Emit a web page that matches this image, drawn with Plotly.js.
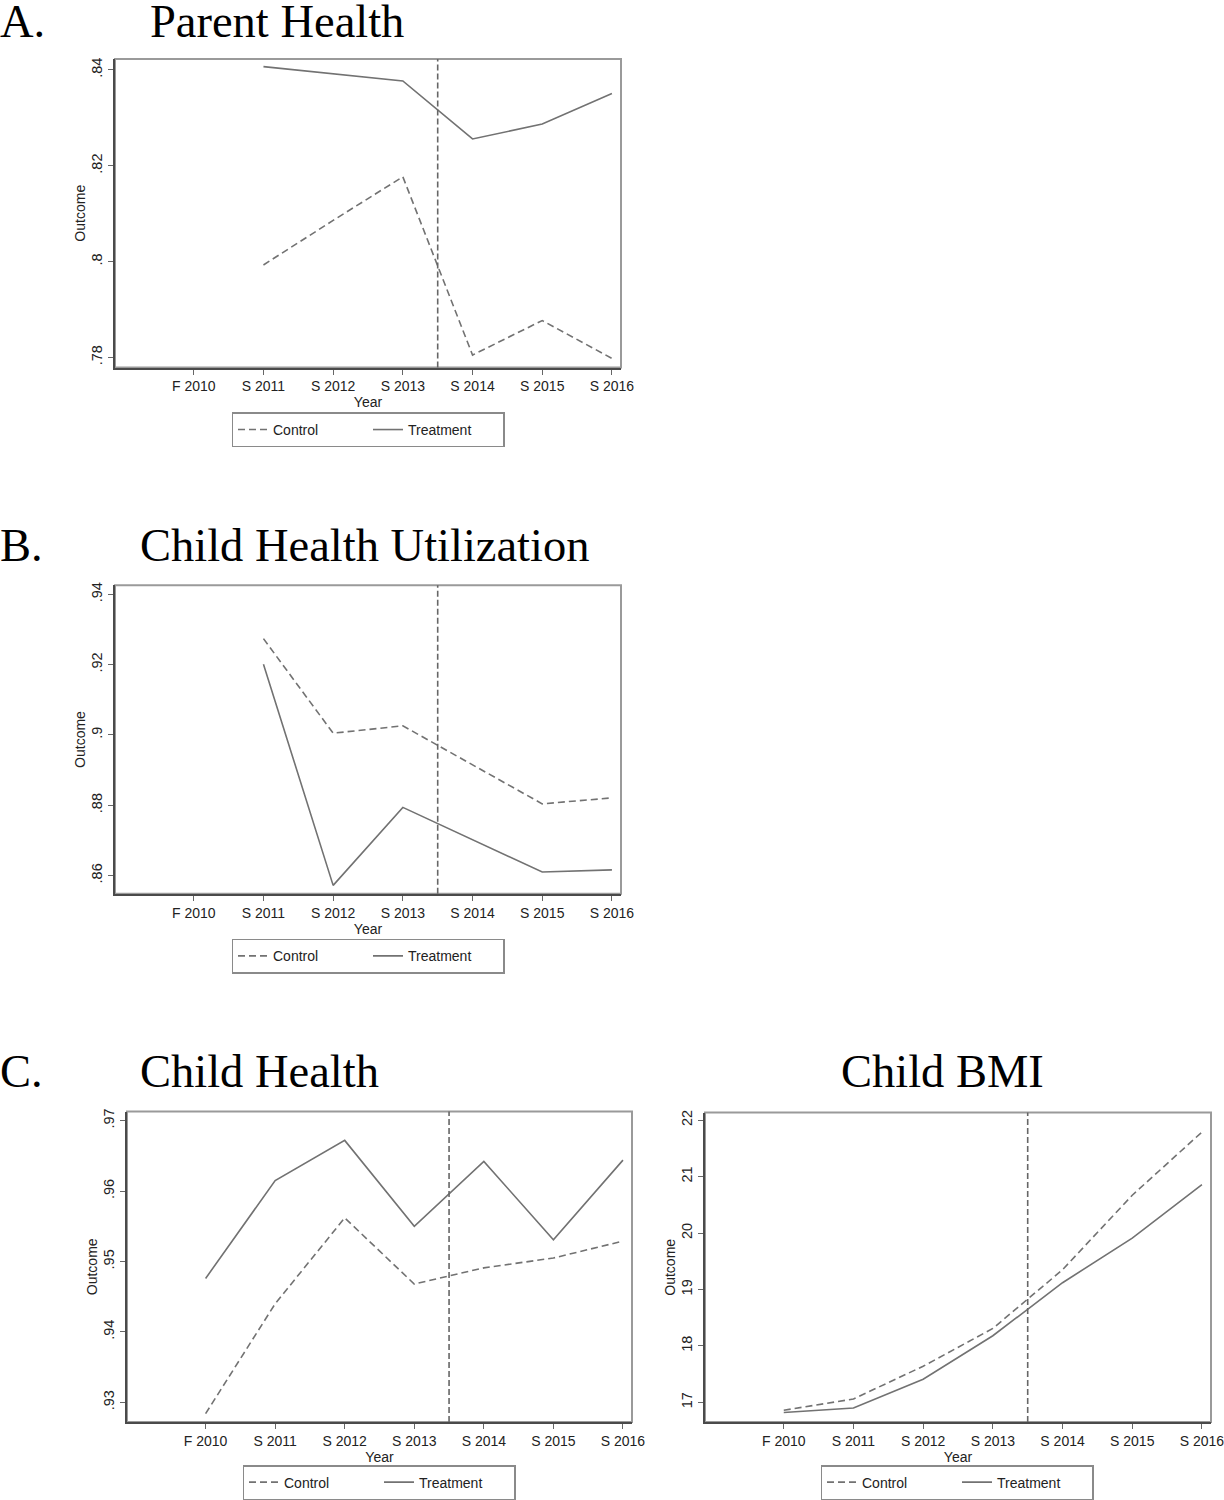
<!DOCTYPE html>
<html>
<head>
<meta charset="utf-8">
<script src="https://cdn.plot.ly/plotly-3.0.1.min.js"></script>
<style>
  html, body { margin: 0; padding: 0; background: #ffffff; }
  #chart { width: 1224px; height: 1500px; }
</style>
</head>
<body>
<div id="chart"></div>
<script>
// ---- Data ----
const years = ['F 2010', 'S 2011', 'S 2012', 'S 2013', 'S 2014', 'S 2015', 'S 2016'];

const parentControl   = [null, 0.7993, 0.8086, 0.8177, 0.7805, 0.7877, 0.7798];
const parentTreatment = [null, 0.8407, 0.8392, 0.8377, 0.8256, 0.8287, 0.8351];

const utilControl   = [null, 0.9274, 0.9005, 0.9026, 0.8914, 0.8804, 0.8821];
const utilTreatment = [null, 0.9201, 0.8572, 0.8794, 0.8702, 0.8610, 0.8616];

const childControl   = [0.9284, 0.9440, 0.9562, 0.9468, 0.9491, 0.9505, 0.9529];
const childTreatment = [0.9476, 0.9615, 0.9672, 0.9550, 0.9642, 0.9531, 0.9644];

const bmiControl   = [16.86, 17.06, 17.64, 18.31, 19.35, 20.67, 21.79];
const bmiTreatment = [16.82, 16.90, 17.41, 18.18, 19.12, 19.91, 20.86];

const parentTickVals = [0.78, 0.80, 0.82, 0.84];
const parentTickText = ['.78', '.8', '.82', '.84'];
const utilTickVals = [0.86, 0.88, 0.90, 0.92, 0.94];
const utilTickText = ['.86', '.88', '.9', '.92', '.94'];
const childTickVals = [0.93, 0.94, 0.95, 0.96, 0.97];
const childTickText = ['.93', '.94', '.95', '.96', '.97'];
const bmiTickVals = [17, 18, 19, 20, 21, 22];
const bmiTickText = ['17', '18', '19', '20', '21', '22'];

const seriesNames = ['Control', 'Treatment'];
const policyBreak = 3.5; // between S 2013 and S 2014

const panelTitles = ['Parent Health', 'Child Health Utilization', 'Child Health', 'Child BMI'];
const panelLetters = ['A.', 'B.', 'C.'];

// ---- Styles ----
const lineColor = '#727272';
const textColor = '#222222';
const axisFont = {family: 'Liberation Sans, Arial, sans-serif', size: 14, color: textColor};
const yTickFont = {family: 'Liberation Sans, Arial, sans-serif', size: 14.5, color: textColor};
const dashPattern = '7px,4px';

function trace(y, name, xa, ya, legend, dashed) {
  return {
    x: years, y: y, name: name, type: 'scatter', mode: 'lines',
    xaxis: xa, yaxis: ya, legend: legend,
    line: {color: lineColor, width: 1.6, dash: dashed ? dashPattern : 'solid'},
    hoverinfo: 'x+y'
  };
}

const data = [
  trace(parentControl, seriesNames[0], 'x', 'y', 'legend', true),
  trace(parentTreatment, seriesNames[1], 'x', 'y', 'legend', false),
  trace(utilControl, seriesNames[0], 'x2', 'y2', 'legend2', true),
  trace(utilTreatment, seriesNames[1], 'x2', 'y2', 'legend2', false),
  trace(childControl, seriesNames[0], 'x3', 'y3', 'legend3', true),
  trace(childTreatment, seriesNames[1], 'x3', 'y3', 'legend3', false),
  trace(bmiControl, seriesNames[0], 'x4', 'y4', 'legend4', true),
  trace(bmiTreatment, seriesNames[1], 'x4', 'y4', 'legend4', false)
];

function xaxis(domain, anchor) {
  return {
    domain: domain, anchor: anchor, type: 'category',
    categoryorder: 'array', categoryarray: years,
    range: [-1.13, 6.13],
    showline: true, linecolor: '#4a4a4a', linewidth: 2,
    ticks: 'outside', ticklen: 5, tickcolor: '#666', tickwidth: 1,
    showgrid: false, zeroline: false, tickangle: 0,
    tickfont: axisFont,
    title: {text: 'Year', font: {family: axisFont.family, size: 14, color: textColor}, standoff: 0},
    automargin: false, fixedrange: true
  };
}
function yaxis(domain, anchor, range, vals, texts) {
  return {
    domain: domain, anchor: anchor, range: range,
    tickmode: 'array', tickvals: vals, ticktext: texts,
    showline: true, linecolor: '#4a4a4a', linewidth: 2,
    ticks: 'outside', ticklen: 5, tickcolor: '#666', tickwidth: 1,
    showgrid: false, zeroline: false, tickangle: -90,
    tickfont: yTickFont,
    title: {text: 'Outcome', font: {family: axisFont.family, size: 14, color: textColor}, standoff: 0},
    automargin: false, fixedrange: true
  };
}

const dA = {x: [0.09395, 0.50735], y: [0.75467, 0.96067]};
const dB = {x: [0.09395, 0.50735], y: [0.40333, 0.60933]};
const dC = {x: [0.10376, 0.51634], y: [0.05067, 0.25800]};
const dD = {x: [0.57598, 0.98938], y: [0.05067, 0.25733]};

function frame(xa, ya) {
  return {type: 'rect', xref: xa + ' domain', yref: ya + ' domain',
    x0: 0, x1: 1, y0: 0, y1: 1, layer: 'below',
    line: {color: '#9a9a9a', width: 2}, fillcolor: 'rgba(0,0,0,0)'};
}
function vline(xa, ya) {
  return {type: 'line', xref: xa, yref: ya + ' domain',
    x0: policyBreak, x1: policyBreak, y0: 0, y1: 1, layer: 'above',
    line: {color: '#666666', width: 1.6, dash: '6px,3px'}};
}

function legend(xc, ytopPx) {
  return {
    orientation: 'h', x: xc, xanchor: 'center', y: 1 - ytopPx / 1500, yanchor: 'top',
    bordercolor: '#8a8a8a', borderwidth: 1.5, bgcolor: '#ffffff',
    font: {family: axisFont.family, size: 14, color: textColor},
    entrywidth: 90, tracegroupgap: 0
  };
}

const titleFont = {family: 'Liberation Serif, Times New Roman, serif', size: 46.5, color: '#000000'};
function ann(text, xPx, yPx, xanchor) {
  return {text: text, xref: 'paper', yref: 'paper', x: xPx / 1224, y: 1 - yPx / 1500,
    xanchor: xanchor, yanchor: 'middle', showarrow: false, font: titleFont};
}

const layout = {
  width: 1224, height: 1500,
  margin: {l: 0, r: 0, t: 0, b: 0},
  paper_bgcolor: '#ffffff', plot_bgcolor: '#ffffff',
  font: axisFont,
  xaxis: xaxis(dA.x, 'y'),
  yaxis: yaxis(dA.y, 'x', [0.7779, 0.8423], parentTickVals, parentTickText),
  xaxis2: xaxis(dB.x, 'y2'),
  yaxis2: yaxis(dB.y, 'x2', [0.8548, 0.9426], utilTickVals, utilTickText),
  xaxis3: xaxis(dC.x, 'y3'),
  yaxis3: yaxis(dC.y, 'x3', [0.9272, 0.9713], childTickVals, childTickText),
  xaxis4: xaxis(dD.x, 'y4'),
  yaxis4: yaxis(dD.y, 'x4', [16.65, 22.136], bmiTickVals, bmiTickText),
  shapes: [
    frame('x', 'y'), frame('x2', 'y2'), frame('x3', 'y3'), frame('x4', 'y4'),
    vline('x', 'y'), vline('x2', 'y2'), vline('x3', 'y3'), vline('x4', 'y4')
  ],
  legend: legend(368 / 1224, 413),
  legend2: legend(368 / 1224, 940),
  legend3: legend(379 / 1224, 1467),
  legend4: legend(957 / 1224, 1467),
  annotations: [
    ann(panelLetters[0], -2, 22, 'left'),
    ann(panelTitles[0], 148, 22, 'left'),
    ann(panelLetters[1], -2, 546, 'left'),
    ann(panelTitles[1], 138, 546, 'left'),
    ann(panelLetters[2], -2, 1073, 'left'),
    ann(panelTitles[2], 138, 1073, 'left'),
    ann(panelTitles[3], 942, 1073, 'center')
  ],
  showlegend: true
};

Plotly.newPlot('chart', data, layout, {staticPlot: true, displayModeBar: false});
</script>
</body>
</html>
